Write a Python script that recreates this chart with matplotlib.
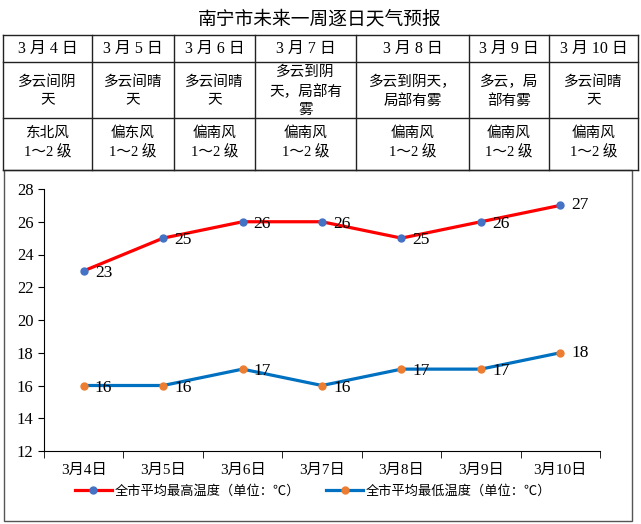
import matplotlib
matplotlib.use('Agg')
import matplotlib.pyplot as plt
from matplotlib.lines import Line2D
from matplotlib.patches import Rectangle

plt.rcParams['font.family'] = ['Liberation Serif', 'Noto Sans CJK SC', 'DejaVu Sans']

# data
days = ['3月4日', '3月5日', '3月6日', '3月7日', '3月8日', '3月9日', '3月10日']
heads = ['3 月 4 日', '3 月 5 日', '3 月 6 日', '3 月 7 日', '3 月 8 日', '3 月 9 日', '3 月 10 日']
weather = ['多云间阴\n天', '多云间晴\n天', '多云间晴\n天', '多云到阴\n天，局部有\n雾',
           '多云到阴天，\n局部有雾', '多云，局\n部有雾', '多云间晴\n天']
wind = ['东北风\n1～2 级', '偏东风\n1～2 级', '偏南风\n1～2 级', '偏南风\n1～2 级',
        '偏南风\n1～2 级', '偏南风\n1～2 级', '偏南风\n1～2 级']
t_high = [23, 25, 26, 26, 25, 26, 27]
t_low = [16, 16, 17, 16, 17, 17, 18]

W, H = 641, 524
fig = plt.figure(figsize=(W / 100, H / 100), dpi=100)

def fx(px):
    return px / W

def fy(py):
    return 1 - py / H

# title
fig.text(fx(320), fy(20), '南宁市未来一周逐日天气预报', ha='center', va='center',
         fontsize=13.5)

# table grid
cols = [3, 92, 174, 255, 356, 469, 549, 638]
rows = [35, 62, 118, 170]
for y in rows:
    fig.add_artist(Line2D([fx(cols[0]), fx(cols[-1])], [fy(y), fy(y)], color='#222222', lw=1))
for x in cols:
    fig.add_artist(Line2D([fx(x), fx(x)], [fy(rows[0]), fy(rows[-1])], color='#222222', lw=1))

for i in range(len(days)):
    cx = fx((cols[i] + cols[i + 1]) / 2)
    fig.text(cx, fy(48.5), heads[i], ha='center', va='center', fontsize=11.5)
    fig.text(cx, fy(91), weather[i], ha='center', va='center', fontsize=10.5, linespacing=1.45)
    fig.text(cx, fy(143), wind[i], ha='center', va='center', fontsize=10.5, linespacing=1.45)

# chart box
fig.add_artist(Rectangle((fx(4), fy(521)), fx(628), 351 / H, fill=False,
                         edgecolor='#555555', lw=1))

ax = fig.add_axes([fx(44), fy(451), fx(556), (451 - 189) / H])
x = list(range(len(days)))
ax.plot(x, t_high, color='#FF0000', lw=2.3, marker='o', ms=5,
        mfc='#4472C4', mec='#4472C4', label='全市平均最高温度（单位：℃）')
ax.plot(x, t_low, color='#0070C0', lw=2.3, marker='o', ms=5,
        mfc='#ED7D31', mec='#ED7D31', label='全市平均最低温度（单位：℃）')

for i in range(len(days)):
    last = i == len(days) - 1
    for v in (t_high[i], t_low[i]):
        ax.annotate(str(v), (i, v), xytext=(8, 0 if last else -1.5),
                    textcoords='offset points', ha='left', va='center', fontsize=12.5)

ax.set_xlim(-0.5, len(days) - 0.5)
ax.set_ylim(12, 28)
ax.set_yticks(range(12, 29, 2))
ax.set_xticks(x)
ax.set_xticklabels(days, fontsize=11)
ax.set_xticks([i - 0.5 for i in range(len(days) + 1)], minor=True)
ax.tick_params(axis='x', which='major', length=0, pad=9)
ax.tick_params(axis='x', which='minor', length=5, direction='out')
ax.tick_params(axis='y', labelsize=12, length=4, direction='out')
for s in ('top', 'right'):
    ax.spines[s].set_visible(False)

fig.legend(loc='center', bbox_to_anchor=(fx(313), fy(491)), ncol=2, frameon=False,
           fontsize=9.5, handlelength=2.8, columnspacing=2.0, handletextpad=0.2)

fig.savefig('out.png', dpi=100)
